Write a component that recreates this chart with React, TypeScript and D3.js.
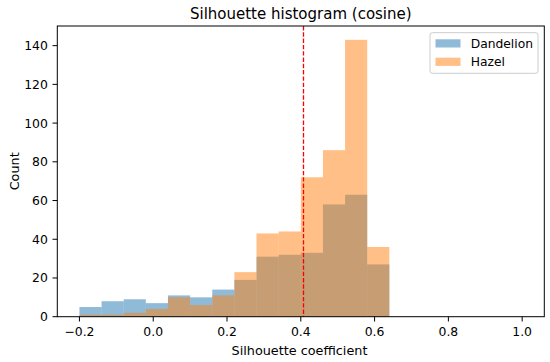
import React from "react";
import * as d3 from "d3";

const binEdges = [-0.2, -0.14, -0.08, -0.02, 0.04, 0.1, 0.16, 0.22, 0.28, 0.34, 0.4, 0.46, 0.52, 0.58, 0.64, 0.7, 0.76, 0.82, 0.88, 0.94, 1.0];
const dandelion = [5, 8, 9, 7, 11, 10, 14, 19, 31, 32, 33, 58, 63, 27, 0, 0, 0, 0, 0, 0];
const hazel = [1, 1, 2, 4, 10, 6, 11, 23, 43, 44, 72, 86, 143, 36, 0, 0, 0, 0, 0, 0];
const seriesNames = ["Dandelion", "Hazel"];
const seriesColors = ["#1f77b4", "#ff7f0e"];
const xTicks = [-0.2, 0.0, 0.2, 0.4, 0.6, 0.8, 1.0];
const yTicks = [0, 20, 40, 60, 80, 100, 120, 140];
const meanLine = 0.407;

const W = 550, H = 362;
const L = 57.3, R = 544.3, T = 26, B = 316.7;
const FONT = "DejaVu Sans, sans-serif";

export default function App() {
  const x = d3.scaleLinear().domain([-0.26, 1.06]).range([L, R]);
  const yMax = d3.max(hazel.concat(dandelion)) as number;
  const y = d3.scaleLinear().domain([0, yMax * 1.05]).range([B, T]);
  const fmt = (v: number) => v.toFixed(1).replace("-", "\u2212");
  const series = [dandelion, hazel];
  const vx = Math.floor(x(meanLine)) + 0.5;

  return (
    <svg width={W} height={H} style={{ position: "absolute", left: 0, top: 0, background: "#fff" }} fontFamily={FONT}>
      <rect x={0} y={0} width={W} height={H} fill="#fff" />
      {series.map((vals, si) => (
        <g key={si}>
          {vals.map((v, i) =>
            v > 0 ? (
              <rect
                key={i}
                x={x(binEdges[i])}
                y={y(v)}
                width={x(binEdges[i + 1]) - x(binEdges[i])}
                height={B - y(v)}
                fill={seriesColors[si]}
                fillOpacity={0.5}
              />
            ) : null
          )}
        </g>
      ))}
      <line x1={vx} x2={vx} y1={T} y2={B} stroke="#ff0000" strokeWidth={1.3} strokeDasharray="4.4,1.9" />
      {/* spines */}
      <rect x={L} y={T} width={R - L} height={B - T} fill="none" stroke="#000" strokeWidth={1} />
      {/* x ticks */}
      {xTicks.map((t) => (
        <g key={t}>
          <line x1={x(t)} x2={x(t)} y1={B} y2={B + 4.8} stroke="#000" strokeWidth={1} />
          <text x={x(t)} y={B + 19} fontSize={12.4} textAnchor="middle" fill="#000">{fmt(t)}</text>
        </g>
      ))}
      {/* y ticks */}
      {yTicks.map((t) => (
        <g key={t}>
          <line x1={L - 4.8} x2={L} y1={y(t)} y2={y(t)} stroke="#000" strokeWidth={1} />
          <text x={L - 9.5} y={y(t)} dy="0.36em" fontSize={12.4} textAnchor="end" fill="#000">{t}</text>
        </g>
      ))}
      <text x={299.5} y={354.5} fontSize={12.8} textAnchor="middle" fill="#000">Silhouette coefficient</text>
      <text transform={`translate(18.5,${(T + B) / 2}) rotate(-90)`} fontSize={12.8} textAnchor="middle" fill="#000">Count</text>
      <text x={(L + R) / 2} y={18.5} fontSize={15} textAnchor="middle" fill="#000">Silhouette histogram (cosine)</text>
      {/* legend */}
      <rect x={430} y={32.7} width={108} height={40.6} rx={2.5} fill="#fff" fillOpacity={0.8} stroke="#cccccc" strokeWidth={1} />
      {seriesNames.map((n, i) => (
        <g key={n}>
          <rect x={435.5} y={39.3 + i * 18.4} width={25} height={8.2} fill={seriesColors[i]} fillOpacity={0.5} />
          <text x={470.7} y={43.4 + i * 18.4} dy="0.36em" fontSize={12.3} fill="#000">{n}</text>
        </g>
      ))}
    </svg>
  );
}
